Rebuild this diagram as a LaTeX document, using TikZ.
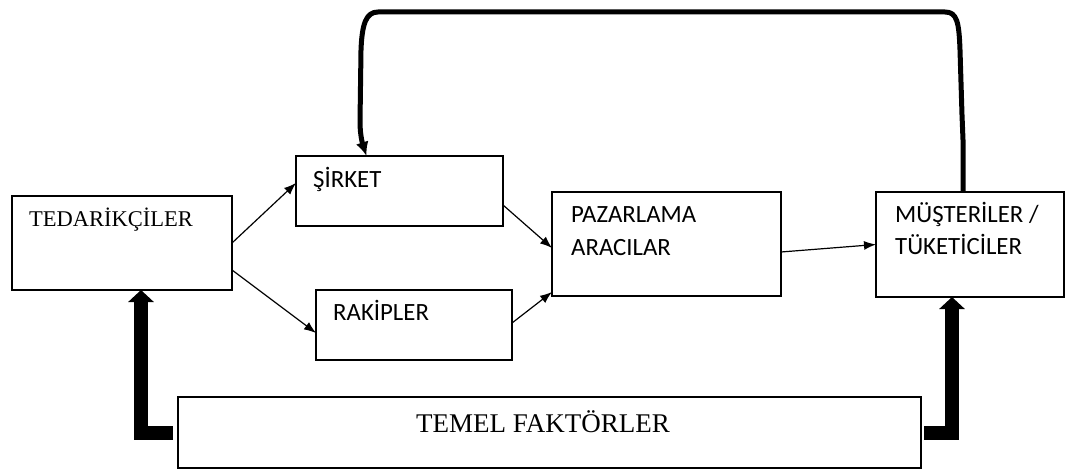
\documentclass[tikz,border=0pt]{standalone}
\usepackage{fontspec}
\setmainfont{Liberation Serif}
\newfontfamily\calfont{Carlito}
\usetikzlibrary{arrows.meta}
\begin{document}
\begin{tikzpicture}[x=1pt,y=-1pt,
  box/.style={draw, line width=1.4pt, rectangle, inner sep=0pt, outer sep=0pt, anchor=north west},
  serifbig/.style={anchor=base west, inner sep=0pt, font=\fontsize{22.5}{27}\selectfont},
  serifhuge/.style={anchor=base west, inner sep=0pt, font=\fontsize{27}{32}\selectfont},
  sanslbl/.style={anchor=base west, inner sep=0pt, font=\calfont\fontsize{24.8}{29}\selectfont},
  thinarrow/.style={draw, line width=1.2pt, -{Latex[length=12pt,width=9pt]}},
  thickarrow/.style={draw, line width=14pt, line join=miter, -{Triangle[length=12pt,width=25pt]}},
  fbarrow/.style={draw, line width=5pt, line cap=butt, line join=round, -{Latex[length=14pt,width=13pt]}}]
\useasboundingbox (0,0) rectangle (1073,470);
\fill[white] (0,0) rectangle (1073,470);

% boxes
\node[box, minimum width=220pt, minimum height=94pt] (tedar) at (12,196) {};
\node[box, minimum width=207pt, minimum height=70pt] (sirket) at (296,156) {};
\node[box, minimum width=196pt, minimum height=70pt] (rakip) at (316,290) {};
\node[box, minimum width=229pt, minimum height=104pt] (pazar) at (552,192) {};
\node[box, minimum width=188pt, minimum height=105pt] (musteri) at (876,192) {};
\node[box, minimum width=743pt, minimum height=71pt] (temel) at (178,397) {};

% texts
\node[serifbig] (tedarT) at (29,227) {TEDARİKÇİLER};
\node[sanslbl] (sirketT) at (313,188) {ŞİRKET};
\node[sanslbl] (rakipT) at (333,320) {RAKİPLER};
\node[sanslbl] (pazarT1) at (571,223) {PAZARLAMA};
\node[sanslbl] (pazarT2) at (571,256) {ARACILAR};
\node[sanslbl] (musteriT1) at (895,223) {MÜŞTERİLER /};
\node[sanslbl] (musteriT2) at (895,255) {TÜKETİCİLER};
\node[serifhuge] (temelT) at (416,432) {TEMEL FAKTÖRLER};

% thin arrows
\draw[thinarrow] (tedar.east) -- ([yshift=8pt]sirket.west);
\draw[thinarrow] ([yshift=-27pt]tedar.east) -- ([yshift=-8pt]rakip.west);
\draw[thinarrow] ([yshift=-14pt]sirket.east) -- ([yshift=-4pt]pazar.west);
\draw[thinarrow] ([yshift=2pt]rakip.east) -- ([yshift=4pt]pazar.south west);
\draw[thinarrow] ([yshift=-8pt]pazar.east) -- (musteri.west);

% thick arrows from TEMEL FAKTORLER
\draw[thickarrow] ([xshift=-5pt]temel.west) -| ([xshift=19pt]tedar.south);
\draw[thickarrow] ([xshift=3pt]temel.east) -| ([xshift=-18pt]musteri.south);

% feedback arrow
\draw[fbarrow] ([xshift=-7pt]musteri.north) -- (963,140) -- (962,115) -- (960,50)
  .. controls (959,22) and (957,12) .. (945,12) -- (378,12)
  .. controls (366,12) and (362,24) .. (361,50) -- (360,122)
  .. controls (360,136) and (363,145) .. ([xshift=-33pt]sirket.north);
\end{tikzpicture}
\end{document}
